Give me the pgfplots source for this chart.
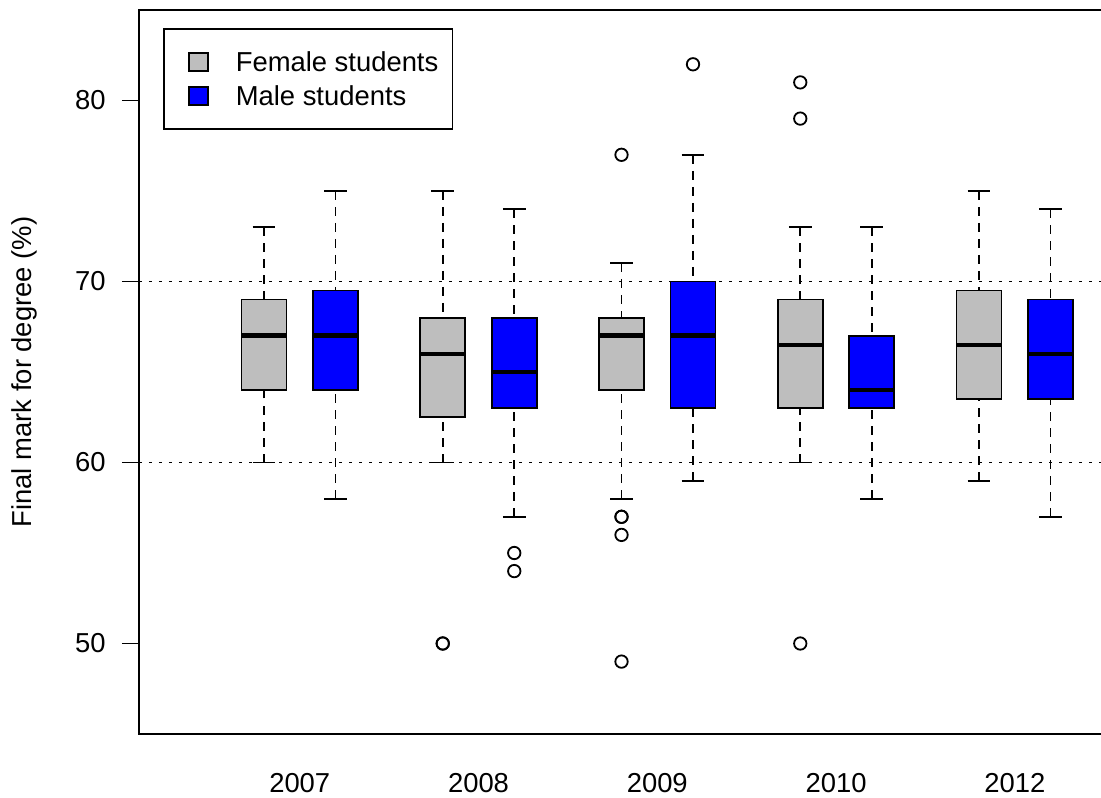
\documentclass[border=0pt]{standalone}
\usepackage{fontspec}
\setmainfont{Liberation Sans}
\usepackage{pgfplots}
\pgfplotsset{compat=1.18}

\definecolor{rgrey}{RGB}{190,190,190}
\definecolor{rblue}{RGB}{0,0,255}
\newcommand{\rfont}{\fontsize{13.7}{16.4}\selectfont}

\pgfplotsset{
  outl/.style={forget plot, only marks, mark=o, mark size=3.1pt,
    mark options={black, line width=0.9pt}},
}

% \rbox{position}{lower whisker}{lower quartile}{median}{upper quartile}{upper whisker}{fill colour}
\newcommand{\rbox}[7]{%
  \pgfmathsetmacro\boxL{#1-0.315}\pgfmathsetmacro\boxR{#1+0.315}%
  \pgfmathsetmacro\capL{#1-0.16}\pgfmathsetmacro\capR{#1+0.16}%
  \addplot[forget plot, black, line width=0.9pt, dash pattern=on 4.5pt off 3.5pt]
    coordinates {(#1,#2) (#1,#3)};
  \addplot[forget plot, black, line width=0.9pt, dash pattern=on 4.5pt off 3.5pt]
    coordinates {(#1,#6) (#1,#5)};
  \addplot[forget plot, black, line width=0.9pt, solid]
    coordinates {(\capL,#2) (\capR,#2)};
  \addplot[forget plot, black, line width=0.9pt, solid]
    coordinates {(\capL,#6) (\capR,#6)};
  \addplot[forget plot, draw=black, fill=#7, line width=0.9pt, solid]
    coordinates {(\boxL,#3) (\boxR,#3) (\boxR,#5) (\boxL,#5)} -- cycle;
  \addplot[forget plot, black, line width=2.3pt, solid]
    coordinates {(\boxL,#4) (\boxR,#4)};
}

\begin{document}
\begin{tikzpicture}
\begin{axis}[
  x=35.75pt, y=9.05pt,
  xmin=-0.7483, xmax=13.75, ymin=45, ymax=85,
  axis line style={line width=0.9pt},
  font=\rfont,
  tick label style={font=\rfont},
  label style={font=\rfont},
  /pgf/number format/assume math mode=true,
  ytick={50,60,70,80},
  xtick={1.5,4,6.5,9,11.5},
  xticklabels={2007,2008,2009,2010,2012},
  ytick pos=left,
  xtick pos=bottom,
  tick align=outside,
  major tick length=8.5pt,
  ytick style={line width=0.9pt, black},
  xtick style={draw=none},
  yticklabel style={anchor=east, inner sep=0pt, xshift=-8pt},
  xticklabel style={anchor=north, inner sep=0pt, yshift=-11pt},
  ylabel={Final mark for degree (\%)},
  every axis y label/.style={at={(axis description cs:-0.11046,0.5)}, rotate=90, anchor=center},
  legend style={
    at={(axis description cs:0.02315,0.97517)}, anchor=north west,
    draw=black, line width=0.8pt, fill=white,
    inner xsep=7pt, inner ysep=8pt,
    nodes={inner sep=0pt, text height=13.4pt, text depth=3.6pt},
    row sep=0pt, font=\rfont,
  },
  legend cell align=left,
]
% reference lines
\addplot[forget plot, black, line width=0.8pt, dash pattern=on 1.5pt off 3.5pt]
  coordinates {(-0.7483,60) (13.75,60)};
\addplot[forget plot, black, line width=0.8pt, dash pattern=on 1.5pt off 3.5pt]
  coordinates {(-0.7483,70) (13.75,70)};

% 2007
\rbox{1}{60}{64}{67}{69}{73}{rgrey}
\rbox{2}{58}{64}{67}{69.5}{75}{rblue}
% 2008
\rbox{3.5}{60}{62.5}{66}{68}{75}{rgrey}
\rbox{4.5}{57}{63}{65}{68}{74}{rblue}
% 2009
\rbox{6}{58}{64}{67}{68}{71}{rgrey}
\rbox{7}{59}{63}{67}{70}{77}{rblue}
% 2010
\rbox{8.5}{60}{63}{66.5}{69}{73}{rgrey}
\rbox{9.5}{58}{63}{64}{67}{73}{rblue}
% 2012
\rbox{11}{59}{63.5}{66.5}{69.5}{75}{rgrey}
\rbox{12}{57}{63.5}{66}{69}{74}{rblue}

% outliers
\addplot[outl] coordinates {(3.5,50) (3.5,50) (6,77) (6,57) (6,57) (6,56) (6,49) (8.5,81) (8.5,79) (8.5,50)};
\addplot[outl] coordinates {(4.5,55) (4.5,54) (7,82)};

\addlegendimage{legend image code/.code={%
  \draw[fill=rgrey, draw=black, line width=0.8pt, solid] (5.5pt,-4.5pt) rectangle (15pt,4.5pt);
  \path[draw=none, fill=none] (0pt,0pt) -- (29pt,0pt);}}
\addlegendentry{Female students}
\addlegendimage{legend image code/.code={%
  \draw[fill=rblue, draw=black, line width=0.8pt, solid] (5.5pt,-4.5pt) rectangle (15pt,4.5pt);
  \path[draw=none, fill=none] (0pt,0pt) -- (29pt,0pt);}}
\addlegendentry{Male students}

\coordinate (bbSW) at (axis cs:-2.6923,41.519);
\coordinate (bbNE) at (axis cs:12.706,85.552);
\end{axis}
\pgfresetboundingbox
\path[use as bounding box] (bbSW) rectangle (bbNE);
\end{tikzpicture}
\end{document}
